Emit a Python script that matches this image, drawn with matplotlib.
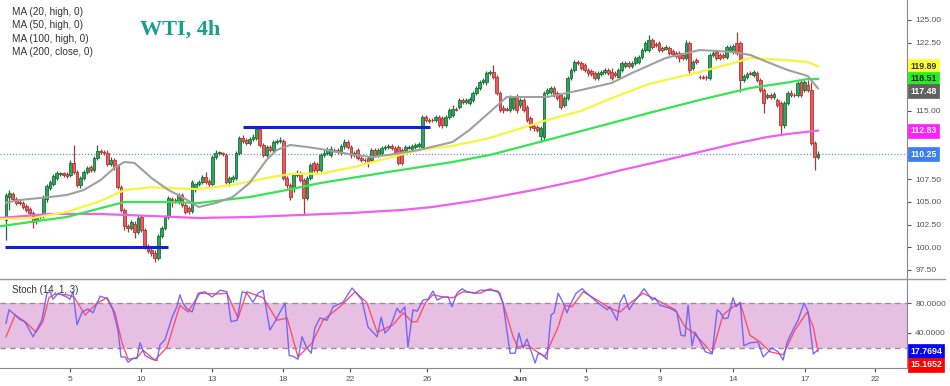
import matplotlib
matplotlib.use('Agg')
import matplotlib.pyplot as plt
from matplotlib.lines import Line2D
import numpy as np

plt.rcParams['font.family'] = ['Liberation Sans', 'DejaVu Sans']

# 4h WTI candles (one value per bar)
opens = [
    103.0, 105.53, 105.86, 105.31, 104.98, 104.87, 104.54, 104.21, 103.77, 102.89,
    103.33, 103.44, 105.31, 106.52, 106.96, 107.62, 108.06, 108.17, 108.06, 107.95,
    109.27, 108.28, 106.85, 107.62, 108.28, 108.83, 108.5, 109.82, 110.59, 110.48,
    110.37, 109.16, 109.6, 108.94, 106.63, 104.1, 102.34, 102.12, 102.56, 101.68,
    103.33, 101.9, 100.03, 99.7, 99.37, 98.82, 101.24, 102.12, 103.33, 105.31,
    105.2, 104.98, 105.75, 104.65, 104.32, 103.99, 106.52, 106.96, 107.18, 107.73,
    107.29, 106.96, 109.93, 110.37, 110.37, 110.15, 107.18, 107.51, 107.62, 110.37,
    112.02, 111.8, 111.47, 111.91, 112.02, 113.01, 111.25, 110.15, 111.03, 110.7,
    111.58, 111.69, 111.69, 107.62, 106.85, 106.63, 107.95, 108.17, 107.4, 105.42,
    107.62, 109.27, 109.16, 108.5, 110.15, 110.37, 110.15, 110.7, 110.7, 110.37,
    111.14, 111.58, 111.03, 110.15, 110.7, 109.82, 109.6, 109.82, 109.6, 110.7,
    110.15, 110.37, 110.92, 111.03, 111.14, 110.92, 111.03, 110.7, 110.7, 110.92,
    110.81, 111.03, 111.14, 111.03, 114.33, 114.0, 114.0, 114.0, 114.33, 114.22,
    113.45, 114.33, 114.55, 115.21, 115.43, 116.2, 115.98, 115.87, 116.2, 116.97,
    117.52, 118.18, 118.18, 119.17, 119.28, 118.73, 116.97, 115.32, 115.21, 115.1,
    115.32, 116.53, 115.65, 116.2, 115.43, 114.22, 113.34, 113.23, 112.24, 112.13,
    116.97, 117.08, 117.52, 116.97, 116.75, 115.65, 116.42, 118.62, 119.5, 120.38,
    120.27, 120.05, 119.5, 119.39, 119.17, 118.62, 119.06, 119.28, 119.5, 119.28,
    119.17, 118.73, 119.5, 119.94, 120.27, 119.94, 120.27, 120.38, 120.93, 121.7,
    121.7, 122.8, 122.36, 122.47, 121.92, 121.81, 121.92, 121.59, 121.37, 121.37,
    121.15, 120.82, 122.47, 119.72, 120.6, 118.73, 118.73, 118.73, 118.62, 121.15,
    121.48, 121.15, 121.15, 120.93, 121.7, 121.48, 122.47, 122.47, 118.4, 118.73,
    119.17, 118.95, 119.17, 118.4, 117.3, 116.53, 116.75, 116.53, 116.2, 115.87,
    113.45, 115.87, 116.97, 116.75, 116.75, 118.18, 117.3, 117.85, 117.3, 111.47,
    109.93]
closes = [
    105.75, 105.97, 105.31, 104.87, 104.87, 104.43, 104.1, 103.77, 102.78, 103.22,
    103.44, 105.53, 106.74, 107.18, 107.84, 108.17, 108.1, 107.95, 107.84, 109.27,
    108.28, 106.85, 107.62, 108.28, 108.72, 108.5, 109.82, 110.59, 110.48, 110.37,
    109.16, 109.6, 108.83, 106.63, 104.1, 102.34, 102.12, 102.78, 101.68, 103.22,
    101.9, 100.03, 99.59, 99.37, 98.82, 101.24, 102.12, 103.33, 105.42, 105.2,
    105.15, 105.75, 104.65, 103.88, 103.99, 107.18, 106.96, 107.18, 107.73, 107.18,
    106.96, 109.93, 110.37, 110.4, 110.26, 107.18, 107.62, 107.73, 110.37, 112.02,
    111.69, 111.47, 111.91, 112.13, 113.01, 111.25, 110.15, 111.03, 110.7, 111.58,
    111.69, 111.8, 107.62, 106.85, 105.53, 107.95, 108.17, 107.4, 105.42, 107.62,
    109.05, 108.5, 108.5, 110.15, 110.37, 110.7, 110.81, 110.65, 110.48, 111.14,
    111.58, 111.03, 110.15, 110.37, 109.82, 109.6, 109.55, 109.38, 110.7, 110.15,
    110.7, 110.92, 111.03, 111.14, 110.92, 110.48, 109.27, 109.27, 111.03, 111.03,
    111.14, 111.25, 111.36, 114.33, 114.0, 113.89, 113.95, 114.33, 113.45, 113.45,
    114.33, 115.1, 115.21, 115.15, 116.2, 115.98, 116.2, 116.31, 116.97, 117.52,
    118.18, 118.4, 119.17, 119.28, 118.73, 116.97, 115.1, 115.1, 115.15, 116.53,
    116.42, 115.1, 116.2, 115.1, 114.0, 113.23, 113.12, 112.9, 113.12, 116.97,
    117.3, 117.52, 116.75, 116.42, 115.43, 116.42, 118.62, 119.5, 120.38, 120.27,
    119.72, 119.5, 119.17, 119.06, 118.62, 119.17, 119.28, 119.5, 119.17, 118.62,
    118.95, 119.5, 120.27, 120.27, 119.94, 120.27, 120.82, 120.93, 121.7, 122.47,
    122.8, 122.03, 122.25, 121.7, 121.7, 122.03, 121.37, 121.26, 121.04, 120.82,
    120.82, 122.47, 119.5, 120.38, 120.38, 118.7, 118.62, 118.7, 121.15, 121.37,
    120.82, 120.82, 120.93, 122.03, 122.03, 122.14, 121.37, 118.4, 118.84, 119.06,
    119.1, 119.28, 118.4, 117.3, 115.87, 116.75, 116.53, 116.86, 115.65, 113.45,
    115.87, 116.97, 116.75, 116.7, 118.07, 116.75, 118.18, 117.3, 111.47, 109.93,
    110.25]
highs = [
    105.97, 106.3, 106.08, 105.53, 105.2, 105.09, 104.76, 104.43, 103.99, 103.44,
    103.66, 105.75, 106.96, 107.4, 108.06, 108.39, 108.28, 108.28, 108.28, 109.6,
    111.25, 108.5, 107.84, 108.5, 108.94, 109.05, 110.04, 111.25, 110.81, 110.7,
    110.7, 109.93, 109.82, 109.16, 106.85, 104.32, 102.56, 103.0, 102.89, 103.55,
    103.55, 102.12, 100.36, 99.92, 99.7, 101.46, 102.34, 103.55, 105.64, 105.53,
    105.42, 105.97, 105.97, 104.87, 104.54, 107.4, 107.07, 107.4, 107.95, 108.28,
    107.51, 110.15, 110.7, 110.59, 110.48, 110.37, 107.84, 107.95, 110.59, 112.24,
    112.35, 112.02, 112.13, 112.46, 113.23, 113.23, 111.47, 111.25, 111.25, 111.8,
    111.91, 112.13, 111.91, 107.84, 107.07, 108.17, 108.5, 108.39, 107.62, 107.84,
    109.27, 109.49, 109.38, 110.37, 110.7, 111.03, 111.14, 110.92, 110.92, 111.36,
    111.91, 111.8, 111.25, 110.59, 110.92, 110.04, 109.82, 110.04, 110.92, 110.92,
    110.92, 111.14, 111.25, 111.36, 111.36, 111.14, 111.25, 110.92, 111.25, 111.25,
    111.36, 111.47, 111.58, 114.55, 114.55, 114.22, 114.22, 114.55, 114.55, 114.44,
    114.55, 115.32, 115.65, 115.43, 116.42, 116.42, 116.42, 116.53, 117.19, 117.74,
    118.4, 118.62, 119.39, 119.5, 120.05, 118.95, 117.19, 115.65, 115.43, 116.75,
    116.64, 116.86, 116.42, 116.42, 115.65, 114.44, 113.56, 113.45, 113.34, 117.19,
    117.52, 117.74, 117.74, 117.19, 116.97, 116.64, 118.84, 119.72, 120.6, 120.6,
    120.49, 120.27, 119.72, 119.61, 119.39, 119.39, 119.5, 119.72, 119.72, 119.72,
    119.39, 119.72, 120.49, 120.49, 120.49, 120.49, 121.04, 121.15, 121.92, 122.69,
    123.35, 123.02, 122.58, 122.69, 122.14, 122.25, 122.14, 121.81, 121.59, 121.59,
    121.37, 122.8, 122.69, 120.6, 120.82, 118.95, 118.95, 118.95, 121.37, 121.59,
    121.7, 121.37, 121.37, 122.25, 122.25, 122.36, 123.68, 122.69, 119.06, 119.28,
    119.39, 119.5, 119.39, 118.62, 117.52, 116.97, 116.97, 117.08, 116.42, 116.09,
    116.09, 117.19, 117.3, 116.97, 118.29, 118.4, 118.4, 118.4, 118.18, 111.69,
    110.59]
lows = [
    100.8, 104.1, 105.09, 104.65, 104.65, 104.21, 103.88, 103.55, 102.12, 102.56,
    103.11, 103.22, 104.98, 106.3, 106.74, 107.4, 107.84, 107.73, 107.62, 107.73,
    108.06, 106.63, 106.52, 107.4, 108.06, 108.28, 108.28, 109.6, 110.26, 110.15,
    108.94, 108.94, 108.5, 106.41, 103.88, 101.9, 101.68, 101.9, 101.02, 101.46,
    101.68, 99.81, 99.37, 99.04, 98.38, 98.6, 101.02, 101.9, 103.11, 104.43,
    104.87, 104.76, 104.43, 103.66, 103.66, 103.77, 106.08, 106.74, 106.96, 106.96,
    106.63, 106.74, 109.71, 110.15, 110.04, 106.96, 106.74, 107.18, 107.4, 110.15,
    111.47, 111.25, 111.25, 111.69, 111.8, 111.03, 109.93, 109.93, 110.48, 110.48,
    111.36, 111.47, 107.4, 106.52, 105.2, 106.08, 107.73, 107.18, 103.55, 105.2,
    107.4, 108.28, 108.17, 108.28, 109.93, 110.15, 109.93, 110.48, 110.26, 110.15,
    110.81, 110.81, 109.82, 109.93, 109.6, 109.38, 109.38, 108.83, 109.38, 109.93,
    109.93, 110.15, 110.7, 110.81, 110.7, 110.26, 109.05, 109.05, 110.48, 110.81,
    110.59, 110.81, 110.92, 110.81, 113.78, 113.67, 113.78, 113.78, 113.23, 113.12,
    113.23, 114.11, 114.33, 114.99, 115.21, 115.76, 115.76, 115.65, 115.98, 116.75,
    117.3, 117.96, 117.85, 118.95, 118.51, 116.75, 114.88, 114.77, 114.99, 114.88,
    115.1, 114.77, 115.32, 114.88, 113.78, 112.9, 112.79, 112.68, 111.58, 111.8,
    116.75, 116.86, 116.53, 116.2, 115.21, 115.43, 116.2, 118.4, 119.28, 120.05,
    119.5, 119.28, 118.84, 118.84, 118.4, 118.4, 118.84, 119.06, 118.95, 118.4,
    118.73, 118.62, 119.28, 119.72, 119.72, 119.72, 120.05, 120.16, 120.71, 121.48,
    121.48, 121.81, 122.03, 121.48, 121.48, 121.7, 121.15, 121.04, 120.82, 120.38,
    120.6, 120.6, 118.95, 119.5, 120.16, 118.51, 118.51, 118.4, 118.4, 120.93,
    120.6, 120.6, 120.71, 120.71, 121.48, 121.26, 121.15, 117.08, 118.18, 118.51,
    118.95, 118.73, 118.18, 117.08, 114.77, 116.31, 116.31, 116.31, 115.43, 112.35,
    113.12, 115.65, 116.53, 116.53, 116.53, 116.53, 117.08, 117.08, 111.25, 108.5,
    109.71]

# moving averages, sampled at bar numbers
ma20_x = [0, 4, 13, 18, 23, 28, 32, 35, 38, 43, 48, 52, 57, 62, 67, 72, 77, 80, 84, 89, 93,
          103, 108, 113, 122, 132, 137, 143, 148, 160, 170, 179, 185, 195, 205, 215, 220,
          225, 231, 237, 240]
ma20 = [104.9, 105.2, 105.53, 105.75, 106.3, 107.4, 108.72, 109.38, 109.27, 107.62, 106.3,
        105.53, 104.43, 104.87, 105.53, 107.07, 109.6, 110.7, 111.25, 111.03, 110.81,
        110.15, 109.93, 110.15, 110.7, 111.58, 112.9, 114.88, 116.53, 116.53, 117.3,
        118.07, 119.17, 120.82, 121.7, 121.48, 121.15, 120.38, 119.5, 118.84, 117.48]
ma50_x = [-2, 8, 18, 28, 35, 43, 48, 57, 67, 77, 84, 93, 103, 113, 122, 132, 143, 160, 170,
          179, 190, 205, 215, 220, 230, 237, 240]
ma50 = [103.11, 103.22, 103.88, 105.1, 106.3, 106.6, 106.5, 106.4, 106.85, 107.62, 108.06,
        108.1, 108.83, 109.82, 110.7, 111.14, 112.02, 114.0, 115.0, 116.4, 117.96, 119.28,
        120.27, 120.82, 120.6, 120.38, 119.89]
ma100_x = [-2, 18, 35, 48, 57, 72, 83, 93, 113, 132, 143, 160, 179, 190, 205, 220, 230, 237, 240]
ma100 = [102.3, 103.33, 104.98, 104.98, 104.87, 105.53, 106.3, 107.07, 108.28, 109.38,
         110.15, 111.8, 113.67, 114.77, 116.2, 117.52, 118.07, 118.51, 118.51]
ma200_x = [-2, 13, 28, 43, 57, 72, 87, 102, 117, 126, 140, 156, 170, 182, 195, 205, 215, 225,
           231, 240]
ma200 = [103.22, 103.66, 103.66, 103.44, 103.22, 103.33, 103.55, 103.77, 104.1, 104.43,
         105.2, 106.3, 107.4, 108.5, 109.6, 110.48, 111.36, 112.13, 112.46, 112.83]

# stochastic (14, 1, 3)
stoch_k_x = [0, 0.9, 2.7, 4.1, 5.6, 8.0, 10.6, 12.1, 13.0, 13.9, 15.4, 18.0, 18.9, 19.8, 21.0,
             22.5, 24.2, 25.7, 27.8, 29.9, 31.6, 33.1, 34.0, 35.2, 36.1, 37.5, 38.7, 39.6,
             41.1, 43.2, 44.6, 45.5, 47.0, 49.1, 50.5, 51.4, 52.3, 53.5, 55.0, 56.8, 58.8,
             60.9, 63.3, 65.3, 66.5, 68.3, 69.8, 71.2, 73.0, 74.5, 76.0, 78.0, 79.5, 81.0,
             82.5, 83.7, 84.8, 86.3, 87.5, 88.7, 90.2, 91.3, 92.8, 94.9, 96.7, 99.6, 102.3,
             105.2, 107.0, 109.7, 110.9, 112.0, 113.5, 115.6, 116.5, 117.9, 118.8, 120.3,
             121.5, 123.3, 124.7, 126.2, 127.4, 129.2, 130.7, 131.8, 133.3, 134.8, 136.3,
             138.6, 140.1, 143.1, 145.4, 146.9, 149.0, 150.5, 151.6, 152.8, 154.0, 155.5,
             156.4, 157.3, 158.4, 159.9, 161.1, 162.0, 163.2, 164.6, 165.8, 166.7, 168.5,
             170.3, 171.7, 175.0, 177.7, 178.5, 180.6, 181.5, 182.7, 184.2, 185.4, 186.8,
             188.6, 191.0, 191.8, 193.3, 196.3, 198.3, 199.5, 200.7, 201.6, 202.8, 203.7,
             205.2, 206.7, 208.7, 210.2, 211.0, 212.3, 213.4, 214.9, 215.8, 217.0, 218.1,
             219.9, 222.3, 223.8, 226.4, 228.2, 229.7, 230.9, 232.6, 234.1, 235.9, 237.1,
             238.6, 240.0]
stoch_k = [53, 71, 64, 58, 55, 35, 57, 93, 95, 85, 93, 88, 85, 95, 51, 68, 72, 67, 89, 86,
           71, 44, 8, 8, 1, 6, 6, 27, 10, 5, 3, 24, 31, 61, 75, 91, 80, 72, 68, 93, 95, 88,
           97, 95, 55, 57, 95, 93, 81, 93, 97, 44, 55, 68, 80, 10, 9, 5, 35, 22, 13, 47, 60,
           57, 75, 81, 100, 84, 48, 35, 61, 40, 47, 73, 67, 75, 21, 71, 69, 84, 85, 96, 84,
           88, 88, 75, 93, 99, 95, 93, 97, 97, 96, 80, 13, 13, 40, 20, 32, 12, 0, 13, 11, 5,
           64, 67, 93, 81, 67, 77, 93, 99, 93, 80, 71, 75, 57, 81, 91, 71, 80, 88, 99, 84,
           87, 77, 73, 68, 37, 36, 77, 23, 41, 28, 15, 12, 71, 68, 59, 60, 87, 75, 81, 23,
           27, 28, 8, 20, 15, 4, 28, 44, 57, 80, 68, 12, 17.77]
stoch_d_x = [0, 2.7, 6.2, 8.9, 10.9, 12.7, 14.5, 18.0, 20.1, 23.4, 26.9, 29.9, 32.2, 34.3,
             36.1, 38.7, 40.5, 44.0, 47.6, 51.4, 53.8, 57.3, 62.4, 65.3, 68.6, 71.2, 76.0,
             80.1, 83.1, 86.3, 90.5, 93.7, 98.7, 103.2, 106.7, 109.7, 114.4, 117.4, 120.0,
             121.5, 123.9, 126.2, 129.2, 132.1, 135.1, 140.1, 143.1, 146.0, 149.9, 151.3,
             154.0, 157.0, 159.3, 163.2, 165.2, 167.3, 170.6, 174.7, 178.5, 181.5, 184.5,
             188.3, 192.4, 197.8, 200.7, 203.0, 206.0, 208.7, 211.9, 214.9, 217.0, 219.9,
             222.9, 225.8, 229.7, 233.2, 236.8, 238.6, 240.0]
stoch_d = [35, 64, 53, 41, 55, 87, 92, 91, 88, 64, 80, 87, 67, 27, 5, 7, 17, 4, 21, 77, 68,
           93, 92, 93, 60, 95, 87, 57, 60, 8, 27, 57, 75, 95, 80, 41, 51, 67, 55, 55, 80, 91,
           88, 87, 95, 93, 99, 93, 35, 21, 24, 15, 9, 48, 77, 75, 95, 84, 73, 68, 80, 93, 84,
           71, 48, 41, 27, 13, 64, 75, 80, 37, 28, 15, 11, 44, 68, 48, 15.17]

# horizontal levels drawn on the chart: (price, first bar, last bar)
support = (100.0, -0.3, 47.9)
resistance = (113.25, 70.1, 125.3)
last_price = 110.25

price_ticks = [97.5, 100.0, 102.5, 105.0, 107.5, 110.0, 112.5, 115.0, 117.5, 120.0, 122.5, 125.0]
covered_ticks = [110.0, 112.5, 117.5, 120.0]   # hidden behind the value badges
date_ticks = [18.9, 39.9, 60.9, 81.9, 101.7, 124.4, 151.9, 171.4, 193.3, 214.9, 236.2, 256.9]
date_labels = ['5', '10', '13', '18', '22', '26', 'Jun', '5', '9', '14', '17', '22']
legend_lines = ['MA (20, high, 0)', 'MA (50, high, 0)', 'MA (100, high, 0)', 'MA (200, close, 0)']

fig = plt.figure(figsize=(9.5, 3.86), dpi=100)
ax = fig.add_axes([0, 0.2798, 0.9547, 0.7202])
ax2 = fig.add_axes([0, 0.04663, 0.9547, 0.23057], sharex=ax)

# candles
x = np.arange(len(closes))
o = np.array(opens)
c = np.array(closes)
up = c >= o
fill = np.where(up, '#2fa55b', '#ee5b56')
edge = np.where(up, '#1c6e3c', '#a8393a')
ax.vlines(x, lows, highs, colors=edge, lw=0.9, zorder=2)
ax.bar(x, np.maximum(np.abs(c - o), 0.06), 0.82, bottom=np.minimum(o, c),
       color=fill, edgecolor=edge, lw=0.6, zorder=2.1)

ax.plot(ma200_x, ma200, color='#f060ee', lw=1.6, zorder=3)
ax.plot(ma100_x, ma100, color='#35e552', lw=1.6, zorder=3)
ax.plot(ma50_x, ma50, color='#f7f53c', lw=1.6, zorder=3)
ax.plot(ma20_x, ma20, color='#a0a0a0', lw=1.5, zorder=3)

ax.axhline(last_price, color='#7090cc', lw=0.9, ls=(0, (1, 1.5)), zorder=1)
for lvl, x0, x1 in (support, resistance):
    ax.plot([x0, x1], [lvl, lvl], color='#1020e0', lw=2.2, zorder=4, solid_capstyle='butt')

ax.set_xlim(-1.77, 266.3)
ax.set_ylim(96.62, 127.2)
ax.yaxis.tick_right()
ax.set_yticks(price_ticks)
ax.set_yticklabels(['' if t in covered_ticks else '%.2f' % t for t in price_ticks])
ax.tick_params(axis='y', labelsize=6, colors='#555555', length=3, pad=3)
ax.tick_params(axis='x', bottom=False, labelbottom=False)
for s in ['top', 'left', 'bottom']:
    ax.spines[s].set_visible(False)
ax.spines['right'].set_color('#888888')

# price badges on the right scale
badges = [('119.89', 119.89, '#ffff33', '#333333', 0),
          ('118.51', 118.51, '#22ee22', '#222222', 0),
          ('117.48', 117.48, '#606060', 'white', -2),
          ('112.83', 112.83, '#ff1fff', 'white', 0),
          ('110.25', 110.25, '#3d7ef0', 'white', 0)]
for txt, v, bg, tc, dy in badges:
    ax.annotate(txt, xy=(1, v), xycoords=('axes fraction', 'data'), xytext=(2.5, dy),
                textcoords='offset points', ha='left', va='center', fontsize=6.3,
                color=tc, fontweight='bold', annotation_clip=False, zorder=10,
                bbox=dict(boxstyle='square,pad=0.3', fc=bg, ec=bg, lw=0.5))

# stochastic pane
ax2.axhspan(20, 80, color='#e6bfe2', lw=0, zorder=0)
for lvl in (20, 80):
    ax2.axhline(lvl, color='#9d8d9b', lw=1, ls=(0, (4, 3)), zorder=1)
ax2.plot(stoch_d_x, stoch_d, color='#ff4f6e', lw=1, zorder=2)
ax2.plot(stoch_k_x, stoch_k, color='#6a5cf6', lw=1, alpha=0.9, zorder=3)
ax2.set_ylim(-6.67, 112)
ax2.yaxis.tick_right()
ax2.set_yticks([40, 80])
ax2.set_yticklabels(['40.0000', '80.0000'])
ax2.tick_params(axis='y', labelsize=6, colors='#555555', length=3, pad=3)
ax2.set_xticks(date_ticks)
ax2.set_xticklabels(date_labels)
ax2.tick_params(axis='x', labelsize=6, colors='#555555', length=3, pad=3)
for lbl in ax2.get_xticklabels():
    if lbl.get_text() == 'Jun':
        lbl.set_fontweight('bold')
ax2.spines['left'].set_visible(False)
for s in ['top', 'right', 'bottom']:
    ax2.spines[s].set_color('#888888')

for txt, v, bg, dy in [('17.7694', 17.77, '#0000ff', -1), ('15.1652', 15.17, '#ff0000', -9.5)]:
    ax2.annotate(txt, xy=(1, v), xycoords=('axes fraction', 'data'), xytext=(2.5, dy),
                 textcoords='offset points', ha='left', va='center', fontsize=6.3,
                 color='white', fontweight='bold', annotation_clip=False, zorder=10,
                 bbox=dict(boxstyle='square,pad=0.25', fc=bg, ec=bg, lw=0.5))

ax2.text(12 / 907, 1 - 11 / 89, 'Stoch (14, 1, 3)', transform=ax2.transAxes,
         fontsize=7, color='#333333', va='center', ha='left')

# pane separator reaching across the price scale
fig.add_artist(Line2D([0, 0.995], [1 - 278.5 / 386] * 2, color='#999999', lw=1))

# legend text and title
for i, t in enumerate(legend_lines):
    fig.text(12 / 950, 1 - (12 + 13.3 * i) / 386, t, fontsize=7.2, color='#333333',
             va='center', ha='left')
fig.text(180 / 950, 1 - 30 / 386, 'WTI, 4h', fontsize=16, fontweight='bold',
         family=['Liberation Serif', 'DejaVu Serif'], color='#17a08c', ha='center', va='center')

fig.savefig('out.png', dpi=100)
